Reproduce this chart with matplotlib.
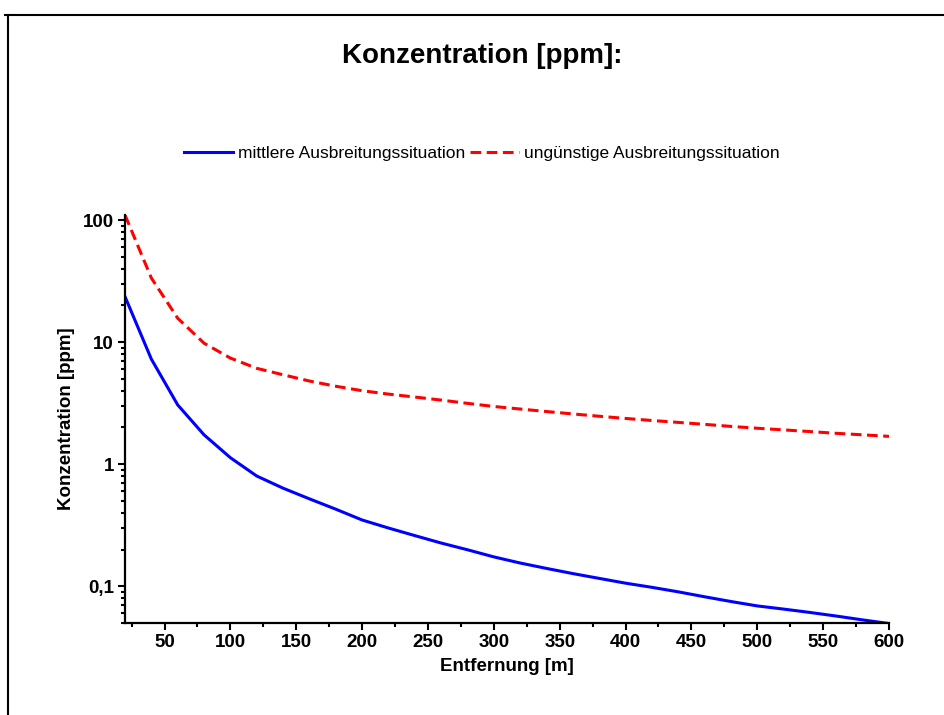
import matplotlib
matplotlib.use("Agg")
import matplotlib.pyplot as plt
from matplotlib.lines import Line2D
from matplotlib.ticker import MultipleLocator, FixedLocator, LogLocator, NullFormatter, FixedFormatter

plt.rcParams['font.family'] = ['Liberation Sans', 'DejaVu Sans']

# Entfernung in m
entfernung = [20, 40, 60, 80, 100, 120, 140, 160, 180, 200,
              220, 240, 260, 280, 300, 320, 340, 360, 380, 400,
              420, 440, 460, 480, 500, 520, 540, 560, 580, 600]

# Konzentration in ppm
mittlere = [23.6, 7.26, 3.06, 1.74, 1.13, 0.80, 0.636, 0.52, 0.428, 0.349,
            0.30, 0.26, 0.226, 0.199, 0.174, 0.155, 0.140, 0.127, 0.116, 0.106,
            0.098, 0.090, 0.082, 0.075, 0.069, 0.065, 0.061, 0.057, 0.053, 0.0495]
unguenstige = [110, 33.5, 15.7, 9.8, 7.4, 6.1, 5.4, 4.8, 4.35, 4.0,
               3.75, 3.55, 3.35, 3.15, 2.97, 2.83, 2.70, 2.58, 2.47, 2.37,
               2.28, 2.20, 2.12, 2.04, 1.97, 1.91, 1.85, 1.79, 1.74, 1.69]

y_ticks = [0.1, 1, 10, 100]
y_ticklabels = ['0,1', '1', '10', '100']

fig = plt.figure(figsize=(9.44, 7.15), dpi=100)
ax = fig.add_axes([125/944, 1-623/715, (889-125)/944, (623-215)/715])

ax.plot(entfernung, mittlere, color='#0000ff', lw=2.2, label='mittlere Ausbreitungssituation')
ax.plot(entfernung, unguenstige, color='#ff0000', lw=2.2, dashes=(3.5, 1.8),
        label='ungünstige Ausbreitungssituation')

ax.set_yscale('log')
ax.set_xlim(20, 600)
ax.set_ylim(0.05, 110)

ax.xaxis.set_major_locator(MultipleLocator(50))
ax.xaxis.set_minor_locator(MultipleLocator(25))
ax.yaxis.set_major_locator(FixedLocator(y_ticks))
ax.yaxis.set_major_formatter(FixedFormatter(y_ticklabels))
ax.yaxis.set_minor_locator(LogLocator(base=10, subs=range(2, 10)))
ax.yaxis.set_minor_formatter(NullFormatter())

for s in ['top', 'right']:
    ax.spines[s].set_visible(False)
for s in ['left', 'bottom']:
    ax.spines[s].set_linewidth(1.6)

ax.tick_params(which='major', length=5, width=1.5, direction='out', labelsize=13.5, pad=3)
ax.tick_params(which='minor', length=3, width=1.5, direction='out')
for lab in ax.get_xticklabels() + ax.get_yticklabels():
    lab.set_fontweight('bold')

ax.set_xlabel('Entfernung [m]', fontsize=13.5, fontweight='bold')
ax.set_ylabel('Konzentration [ppm]', fontsize=13.5, fontweight='bold')
ax.yaxis.set_label_coords(-0.066, 0.5)
ax.xaxis.set_label_coords(0.5, -0.087)

fig.text(482/944, 1-56/715, 'Konzentration [ppm]:', fontsize=20, fontweight='bold',
         ha='center', va='center')

fig.legend(loc='center', bbox_to_anchor=(482/944, 1-153/715), ncol=2, frameon=False,
           fontsize=12.5, handlelength=2.8, handletextpad=0.3, columnspacing=0.3)

# Rahmen (oben und links)
fig.add_artist(Line2D([5/944, 1.0], [1-15/715, 1-15/715], color='black', lw=1.5))
fig.add_artist(Line2D([8/944, 8/944], [0.0, 1-15/715], color='black', lw=1.5))

fig.savefig('out.png', dpi=100)
